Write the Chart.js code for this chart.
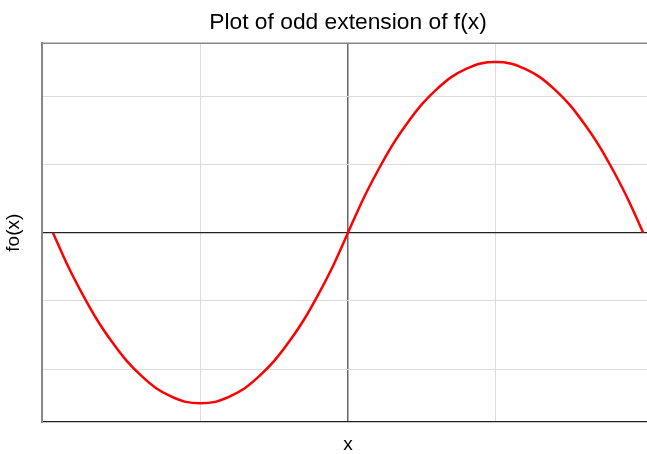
<!DOCTYPE html>
<html>
<head>
<meta charset="utf-8">
<script src="https://cdn.jsdelivr.net/npm/chart.js@4"></script>
<style>
  html, body { margin: 0; padding: 0; overflow: hidden; background: #fff; }
  #wrap { width: 696px; height: 454px; }
</style>
</head>
<body>
<div id="wrap"><canvas id="oddChart"></canvas></div>
<script>
// values (x in half-period units, y in grid units)
const xValues = [-1, -0.95, -0.9, -0.85, -0.8, -0.75, -0.7, -0.65, -0.6, -0.55, -0.5,
  -0.45, -0.4, -0.35, -0.3, -0.25, -0.2, -0.15, -0.1, -0.05, 0,
  0.05, 0.1, 0.15, 0.2, 0.25, 0.3, 0.35, 0.4, 0.45, 0.5,
  0.55, 0.6, 0.65, 0.7, 0.75, 0.8, 0.85, 0.9, 0.95, 1];
const foValues = [0, -0.48, -0.9, -1.28, -1.6, -1.88, -2.1, -2.28, -2.4, -2.48, -2.5,
  -2.48, -2.4, -2.28, -2.1, -1.88, -1.6, -1.28, -0.9, -0.48, 0,
  0.48, 0.9, 1.28, 1.6, 1.88, 2.1, 2.28, 2.4, 2.48, 2.5,
  2.48, 2.4, 2.28, 2.1, 1.88, 1.6, 1.28, 0.9, 0.48, 0];
const xGridTicks = [-0.5, 0, 0.5];
const yGridTicks = [-2, -1, 0, 1, 2];

// top frame line
const frameTop = {
  id: 'frameTop',
  afterDraw(chart) {
    const { ctx, chartArea } = chart;
    ctx.save();
    ctx.strokeStyle = '#888';
    ctx.lineWidth = 1.5;
    ctx.beginPath();
    ctx.moveTo(chartArea.left, chartArea.top);
    ctx.lineTo(chartArea.right, chartArea.top);
    ctx.stroke();
    ctx.restore();
  }
};

const ctx = document.getElementById('oddChart').getContext('2d');
new Chart(ctx, {
  type: 'line',
  data: {
    datasets: [{
      label: 'fo(x)',
      data: xValues.map((x, i) => ({ x: x, y: foValues[i] })),
      borderColor: '#ff0000',
      borderWidth: 2.5,
      pointRadius: 0,
      cubicInterpolationMode: 'monotone',
      fill: false
    }]
  },
  options: {
    responsive: true,
    maintainAspectRatio: false,
    animation: false,
    layout: { padding: 0 },
    plugins: {
      legend: { display: false },
      tooltip: { enabled: false },
      title: {
        display: true,
        text: 'Plot of odd extension of f(x)',
        color: '#000',
        font: { family: 'Liberation Sans, Arial, sans-serif', size: 22.8, weight: 'normal', lineHeight: 1.2 },
        padding: { top: 9, bottom: 7 }
      }
    },
    scales: {
      x: {
        type: 'linear',
        min: -1.037,
        max: 1.037,
        afterBuildTicks: axis => { axis.ticks = xGridTicks.map(v => ({ value: v })); },
        afterFit: scale => { scale.height = 32; },
        ticks: { display: false },
        grid: {
          drawTicks: false,
          color: c => (c.tick && c.tick.value === 0) ? '#666' : '#dcdcdc',
          lineWidth: c => (c.tick && c.tick.value === 0) ? 1.5 : 1
        },
        border: { display: true, color: '#222', width: 1.2 },
        title: {
          display: true,
          text: 'x',
          color: '#000',
          font: { family: 'Liberation Sans, Arial, sans-serif', size: 19, lineHeight: 1 },
          padding: { top: 0, bottom: 0 }
        }
      },
      y: {
        type: 'linear',
        min: -2.775,
        max: 2.775,
        afterBuildTicks: axis => { axis.ticks = yGridTicks.map(v => ({ value: v })); },
        afterFit: scale => { scale.width = 42; },
        ticks: { display: false },
        grid: {
          drawTicks: false,
          color: c => (c.tick && c.tick.value === 0) ? '#222' : '#dcdcdc',
          lineWidth: c => (c.tick && c.tick.value === 0) ? 1.2 : 1
        },
        border: { display: true, color: '#888', width: 2 },
        title: {
          display: true,
          text: 'fo(x)',
          color: '#000',
          font: { family: 'Liberation Sans, Arial, sans-serif', size: 19, lineHeight: 1 },
          padding: { top: 4.5, bottom: 0 }
        }
      },
      // empty right-hand scale so the plot stays centred under the title
      yRight: {
        type: 'linear',
        position: 'right',
        min: -2.775,
        max: 2.775,
        afterFit: scale => { scale.width = 42; },
        ticks: { display: false },
        grid: { display: false, drawOnChartArea: false, drawTicks: false },
        border: { display: false }
      }
    }
  },
  plugins: [frameTop]
});
</script>
</body>
</html>
